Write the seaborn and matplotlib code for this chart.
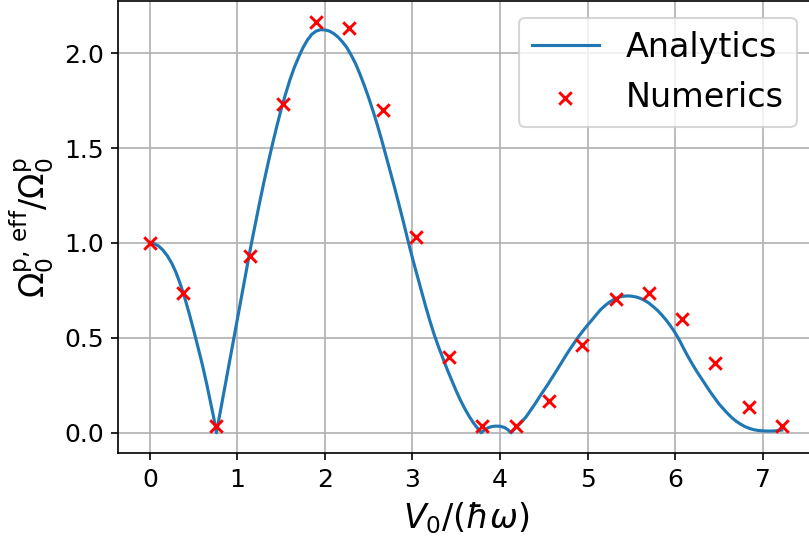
import matplotlib
matplotlib.use("Agg")
import matplotlib.pyplot as plt
import seaborn as sns

# Analytic effective Rabi frequency (solid curve)
analytic_v0 = [
    0.00, 0.05, 0.10, 0.15, 0.20, 0.25, 0.30, 0.35, 0.40, 0.45, 0.50, 0.55, 0.60,
    0.65, 0.70, 0.73, 0.76,
    0.80, 0.85, 0.90, 0.95, 1.00, 1.05, 1.10, 1.15, 1.20, 1.25, 1.30, 1.35, 1.40,
    1.45, 1.50, 1.55, 1.60, 1.65, 1.70, 1.75, 1.80, 1.85, 1.90, 1.95, 2.00,
    2.05, 2.10, 2.15, 2.20, 2.25, 2.30, 2.35, 2.40, 2.45, 2.50, 2.55, 2.60, 2.65,
    2.70, 2.75, 2.80, 2.85, 2.90, 2.95, 3.00, 3.05, 3.10, 3.15, 3.20, 3.25, 3.30,
    3.35, 3.40, 3.45, 3.50, 3.55, 3.60, 3.65, 3.70, 3.75, 3.785,
    3.82, 3.86, 3.90, 3.95, 4.00, 4.05, 4.09, 4.125,
    4.20, 4.25, 4.30, 4.35, 4.40, 4.45, 4.50, 4.55, 4.60, 4.65, 4.70, 4.75, 4.80,
    4.85, 4.90, 4.95, 5.00, 5.05, 5.10, 5.15, 5.20, 5.25, 5.30, 5.35, 5.40, 5.45,
    5.50, 5.55, 5.60, 5.65, 5.70, 5.75, 5.80, 5.85, 5.90, 5.95, 6.00, 6.05, 6.10,
    6.15, 6.20, 6.25, 6.30, 6.35, 6.40, 6.45, 6.50, 6.55, 6.60, 6.65, 6.70, 6.75,
    6.80, 6.85, 6.90, 6.95, 7.00, 7.05, 7.10, 7.15, 7.22,
]
analytic_ratio = [
    1.000, 0.996, 0.984, 0.962, 0.932, 0.893, 0.843, 0.780, 0.708, 0.627, 0.540, 0.450, 0.357,
    0.255, 0.145, 0.078, 0.000,
    0.100, 0.225, 0.350, 0.475, 0.600, 0.725, 0.850, 0.975, 1.090, 1.205, 1.315, 1.420, 1.520,
    1.615, 1.705, 1.785, 1.860, 1.925, 1.980, 2.030, 2.070, 2.100, 2.117, 2.124, 2.123,
    2.117, 2.104, 2.085, 2.060, 2.030, 1.990, 1.945, 1.890, 1.830, 1.765, 1.695, 1.620, 1.540,
    1.455, 1.370, 1.285, 1.195, 1.105, 1.010, 0.920, 0.835, 0.750, 0.667, 0.588, 0.515, 0.450,
    0.390, 0.330, 0.275, 0.220, 0.170, 0.125, 0.085, 0.050, 0.020, 0.000,
    0.014, 0.025, 0.032, 0.035, 0.034, 0.028, 0.016, 0.000,
    0.035, 0.058, 0.085, 0.118, 0.152, 0.188, 0.222, 0.257, 0.293, 0.330, 0.368, 0.405, 0.441,
    0.475, 0.508, 0.538, 0.567, 0.594, 0.622, 0.649, 0.670, 0.688, 0.702, 0.713, 0.719, 0.721,
    0.720, 0.716, 0.709, 0.698, 0.684, 0.665, 0.645, 0.620, 0.593, 0.562, 0.528, 0.488, 0.443,
    0.400, 0.360, 0.322, 0.287, 0.252, 0.217, 0.185, 0.153, 0.127, 0.102, 0.079, 0.060, 0.045,
    0.032, 0.023, 0.016, 0.012, 0.010, 0.009, 0.009, 0.010, 0.014,
]

# Numerical results (crosses)
numeric_v0 = [0.00, 0.38, 0.76, 1.14, 1.52, 1.90, 2.28, 2.66, 3.04, 3.42,
              3.80, 4.18, 4.56, 4.94, 5.32, 5.70, 6.08, 6.46, 6.84, 7.22]
numeric_ratio = [1.000, 0.735, 0.035, 0.933, 1.731, 2.167, 2.132, 1.701, 1.033, 0.401,
                 0.037, 0.037, 0.167, 0.462, 0.703, 0.735, 0.599, 0.366, 0.137, 0.037]

W, H, DPI = 809, 538, 150
fig = plt.figure(figsize=(W / DPI, H / DPI), dpi=DPI)
ax = fig.add_axes([118.3 / W, 84.7 / H, 695.1 / W, 452.3 / H])

sns.lineplot(x=analytic_v0, y=analytic_ratio, color="#1f77b4", linewidth=1.5,
             label="Analytics", ax=ax, zorder=2)
sns.scatterplot(x=numeric_v0, y=numeric_ratio, marker="x", color="red", s=36,
                linewidth=1.4, label="Numerics", ax=ax, zorder=3)

ax.grid(True, color="#b0b0b0", linewidth=0.8)
ax.set_xlabel(r"$V_0/(\hbar\omega)$", fontsize=16)
ax.set_ylabel(r"$\Omega_0^{\mathrm{p,\,eff}}/\Omega_0^{\mathrm{p}}$", fontsize=16)
ax.tick_params(labelsize=12)
ax.legend(loc="upper right", fontsize=16)

fig.savefig("out.png", dpi=DPI)
